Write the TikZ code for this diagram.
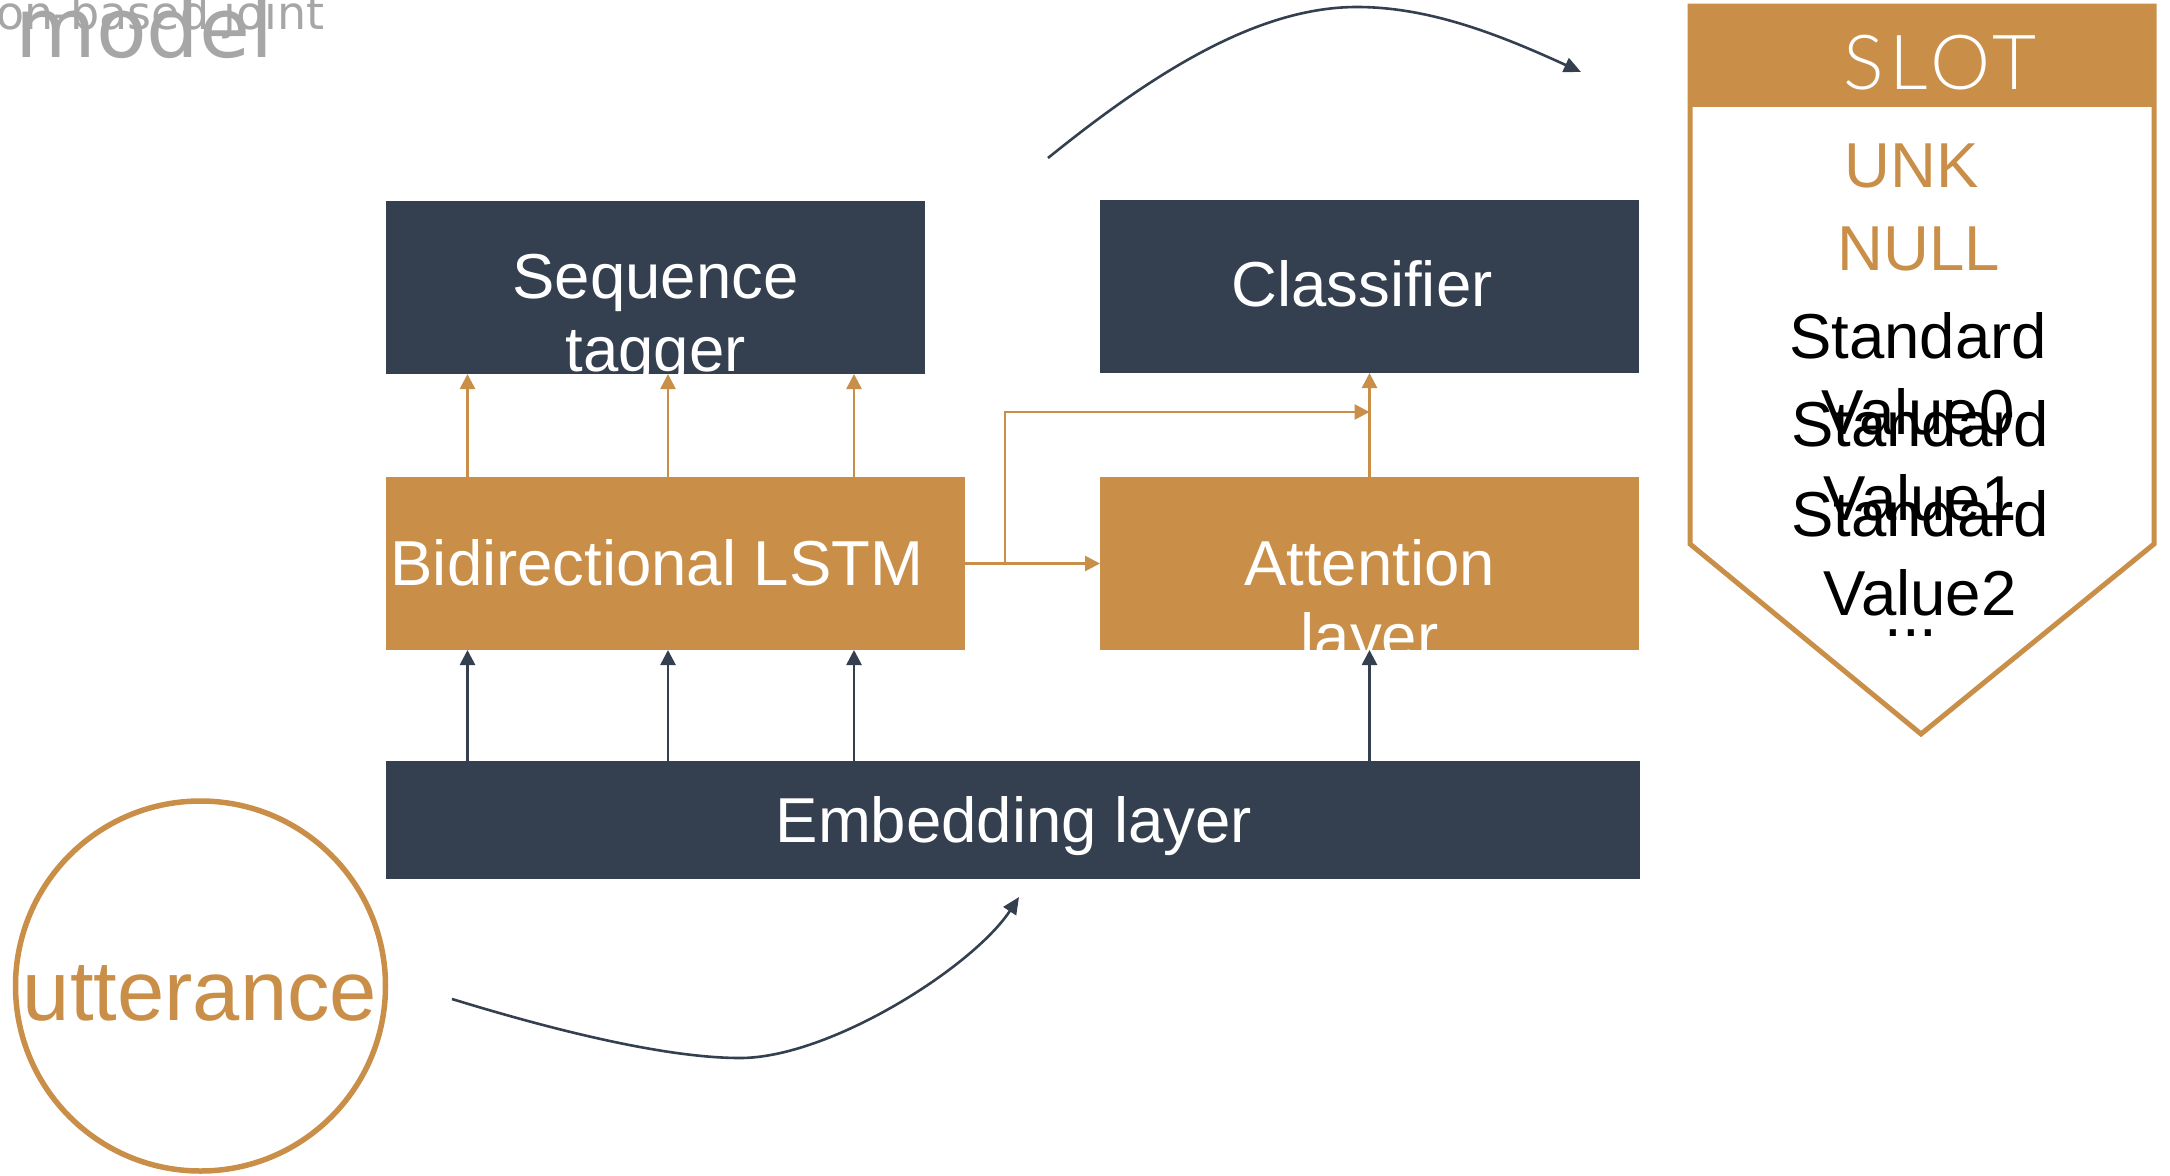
\documentclass[tikz,border=0pt]{standalone}
\usepackage{fontspec}
\setmainfont{Liberation Sans}
\newfontfamily\slotfont{Lato Light}[LetterSpace=7.5]
\newfontfamily\titlefont{DejaVu Sans}
\usetikzlibrary{arrows.meta}
\definecolor{navy}{RGB}{52,64,80}
\definecolor{ochre}{RGB}{201,143,72}
\definecolor{greytxt}{RGB}{166,166,166}

\begin{document}
\begin{tikzpicture}[x=1pt,y=-1pt,
  panel/.style={inner sep=0pt, outer sep=0pt, draw=none},
  darkpanel/.style={panel, fill=navy},
  goldpanel/.style={panel, fill=ochre},
  boxtext/.style={anchor=base, inner sep=0pt, text=white,
    font=\fontsize{63.5}{73}\selectfont},
  slotitem/.style={anchor=base, inner sep=0pt,
    font=\fontsize{63.5}{73}\selectfont},
  goldflow/.style={draw=ochre, line width=2.7pt,
    -{Triangle[length=15pt,width=15pt]}},
  darkflow/.style={draw=navy, line width=2.7pt,
    -{Triangle[length=15pt,width=15pt]}},
  sweep/.style={draw=navy, line width=2.6pt,
    -{Triangle[length=17pt,width=15pt]}}]

\useasboundingbox (0,0) rectangle (2170,1175);

% title (runs off the left edge)
\node[anchor=base east, inner sep=0pt, text=greytxt,
  font=\titlefont\fontsize{46}{54}\selectfont] (titleA) at (325,29) {Attention-based joint};
\node[anchor=base west, inner sep=0pt, text=greytxt,
  font=\titlefont\fontsize{83}{96}\selectfont] (titleB) at (15,57) {model};

% slot panel
\draw[ochre, line width=5pt, line join=miter]
  (1690,6) -- (2154,6) -- (2154,544) -- (1921,734) -- (1690,544) -- cycle;
\node[goldpanel, minimum width=468pt, minimum height=103pt] (slothead) at (1922,55.5) {};
\node[anchor=base, inner sep=0pt, text=white,
  font=\slotfont\fontsize{76}{80}\selectfont] (slotname) at (1940,89) {SLOT};
\node[slotitem, text=ochre] (unk) at (1912,187) {UNK};
\node[slotitem, text=ochre] (null) at (1919,270) {NULL};
\node[slotitem] (sa) at (1918,358) {Standard};
\node[slotitem] (va) at (1918,434) {Value0};
\node[slotitem] (sb) at (1920,446) {Standard};
\node[slotitem] (vb) at (1920,520) {Value1};
\node[slotitem] (sc) at (1920,536) {Standard};
\node[slotitem] (vc) at (1920,615) {Value2};
\node[slotitem] (more) at (1911,636) {...};

% network blocks
\node[darkpanel, minimum width=539pt, minimum height=173pt] (tagger) at (655.5,287.5) {};
\node[darkpanel, minimum width=539pt, minimum height=173pt] (classifier) at (1369.5,286.5) {};
\node[goldpanel, minimum width=579pt, minimum height=173pt] (lstm) at (675.5,563.5) {};
\node[goldpanel, minimum width=539pt, minimum height=173pt] (attn) at (1369.5,563.5) {};
\node[darkpanel, minimum width=1254pt, minimum height=118pt] (embed) at (1013,820) {};

\node[boxtext] (taggerA) at (655.5,298) {Sequence};
\node[boxtext] (taggerB) at (655.5,371) {tagger};
\node[boxtext] (classifierT) at (1362,306) {Classifier};
\node[boxtext] (lstmT) at (657,585) {Bidirectional LSTM};
\node[boxtext] (attnA) at (1369.5,585) {Attention};
\node[boxtext] (attnB) at (1369.5,658) {layer};
\node[boxtext] (embedT) at (1014,842.5) {Embedding layer};

% column positions of the vertical links
\coordinate (ka) at (467.5,0);
\coordinate (kb) at (668,0);
\coordinate (kc) at (854,0);
\coordinate (kd) at (1369.5,0);
\coordinate (br) at (1005,412);

% LSTM -> sequence tagger
\draw[goldflow] (lstm.north -| ka) -- (tagger.south -| ka);
\draw[goldflow] (lstm.north -| kb) -- (tagger.south -| kb);
\draw[goldflow] (lstm.north -| kc) -- (tagger.south -| kc);
% LSTM -> attention, and the skip link to the classifier
\draw[goldflow] (lstm.east) -- (attn.west);
\draw[goldflow] (lstm.east -| br) -- (br) -- (br -| kd);
\draw[goldflow] (attn.north) -- (classifier.south);

% embedding -> LSTM / attention
\draw[darkflow] (embed.north -| ka) -- (lstm.south -| ka);
\draw[darkflow] (embed.north -| kb) -- (lstm.south -| kb);
\draw[darkflow] (embed.north -| kc) -- (lstm.south -| kc);
\draw[darkflow] (embed.north -| kd) -- (attn.south);

% utterance
\node[circle, draw=ochre, line width=5.5pt, minimum size=370pt, inner sep=0pt] (utt) at (200.5,986) {};
\node[anchor=base, inner sep=0pt, text=ochre,
  font=\fontsize{85}{96}\selectfont] (uttT) at (200,1020) {utterance};

% sweeping arrows
\coordinate (inS) at (452,999);
\coordinate (inE) at (1019,897);
\draw[sweep] (inS) .. controls (540,1026) and (660,1058) .. (740,1058)
  .. controls (830,1058) and (973,967) .. (inE);
\coordinate (outS) at (1048,158);
\coordinate (outE) at (1581,72);
\draw[sweep] (outS) .. controls (1158,69) and (1260,7) .. (1357,7)
  .. controls (1430,7) and (1500,35) .. (outE);
\end{tikzpicture}
\end{document}
